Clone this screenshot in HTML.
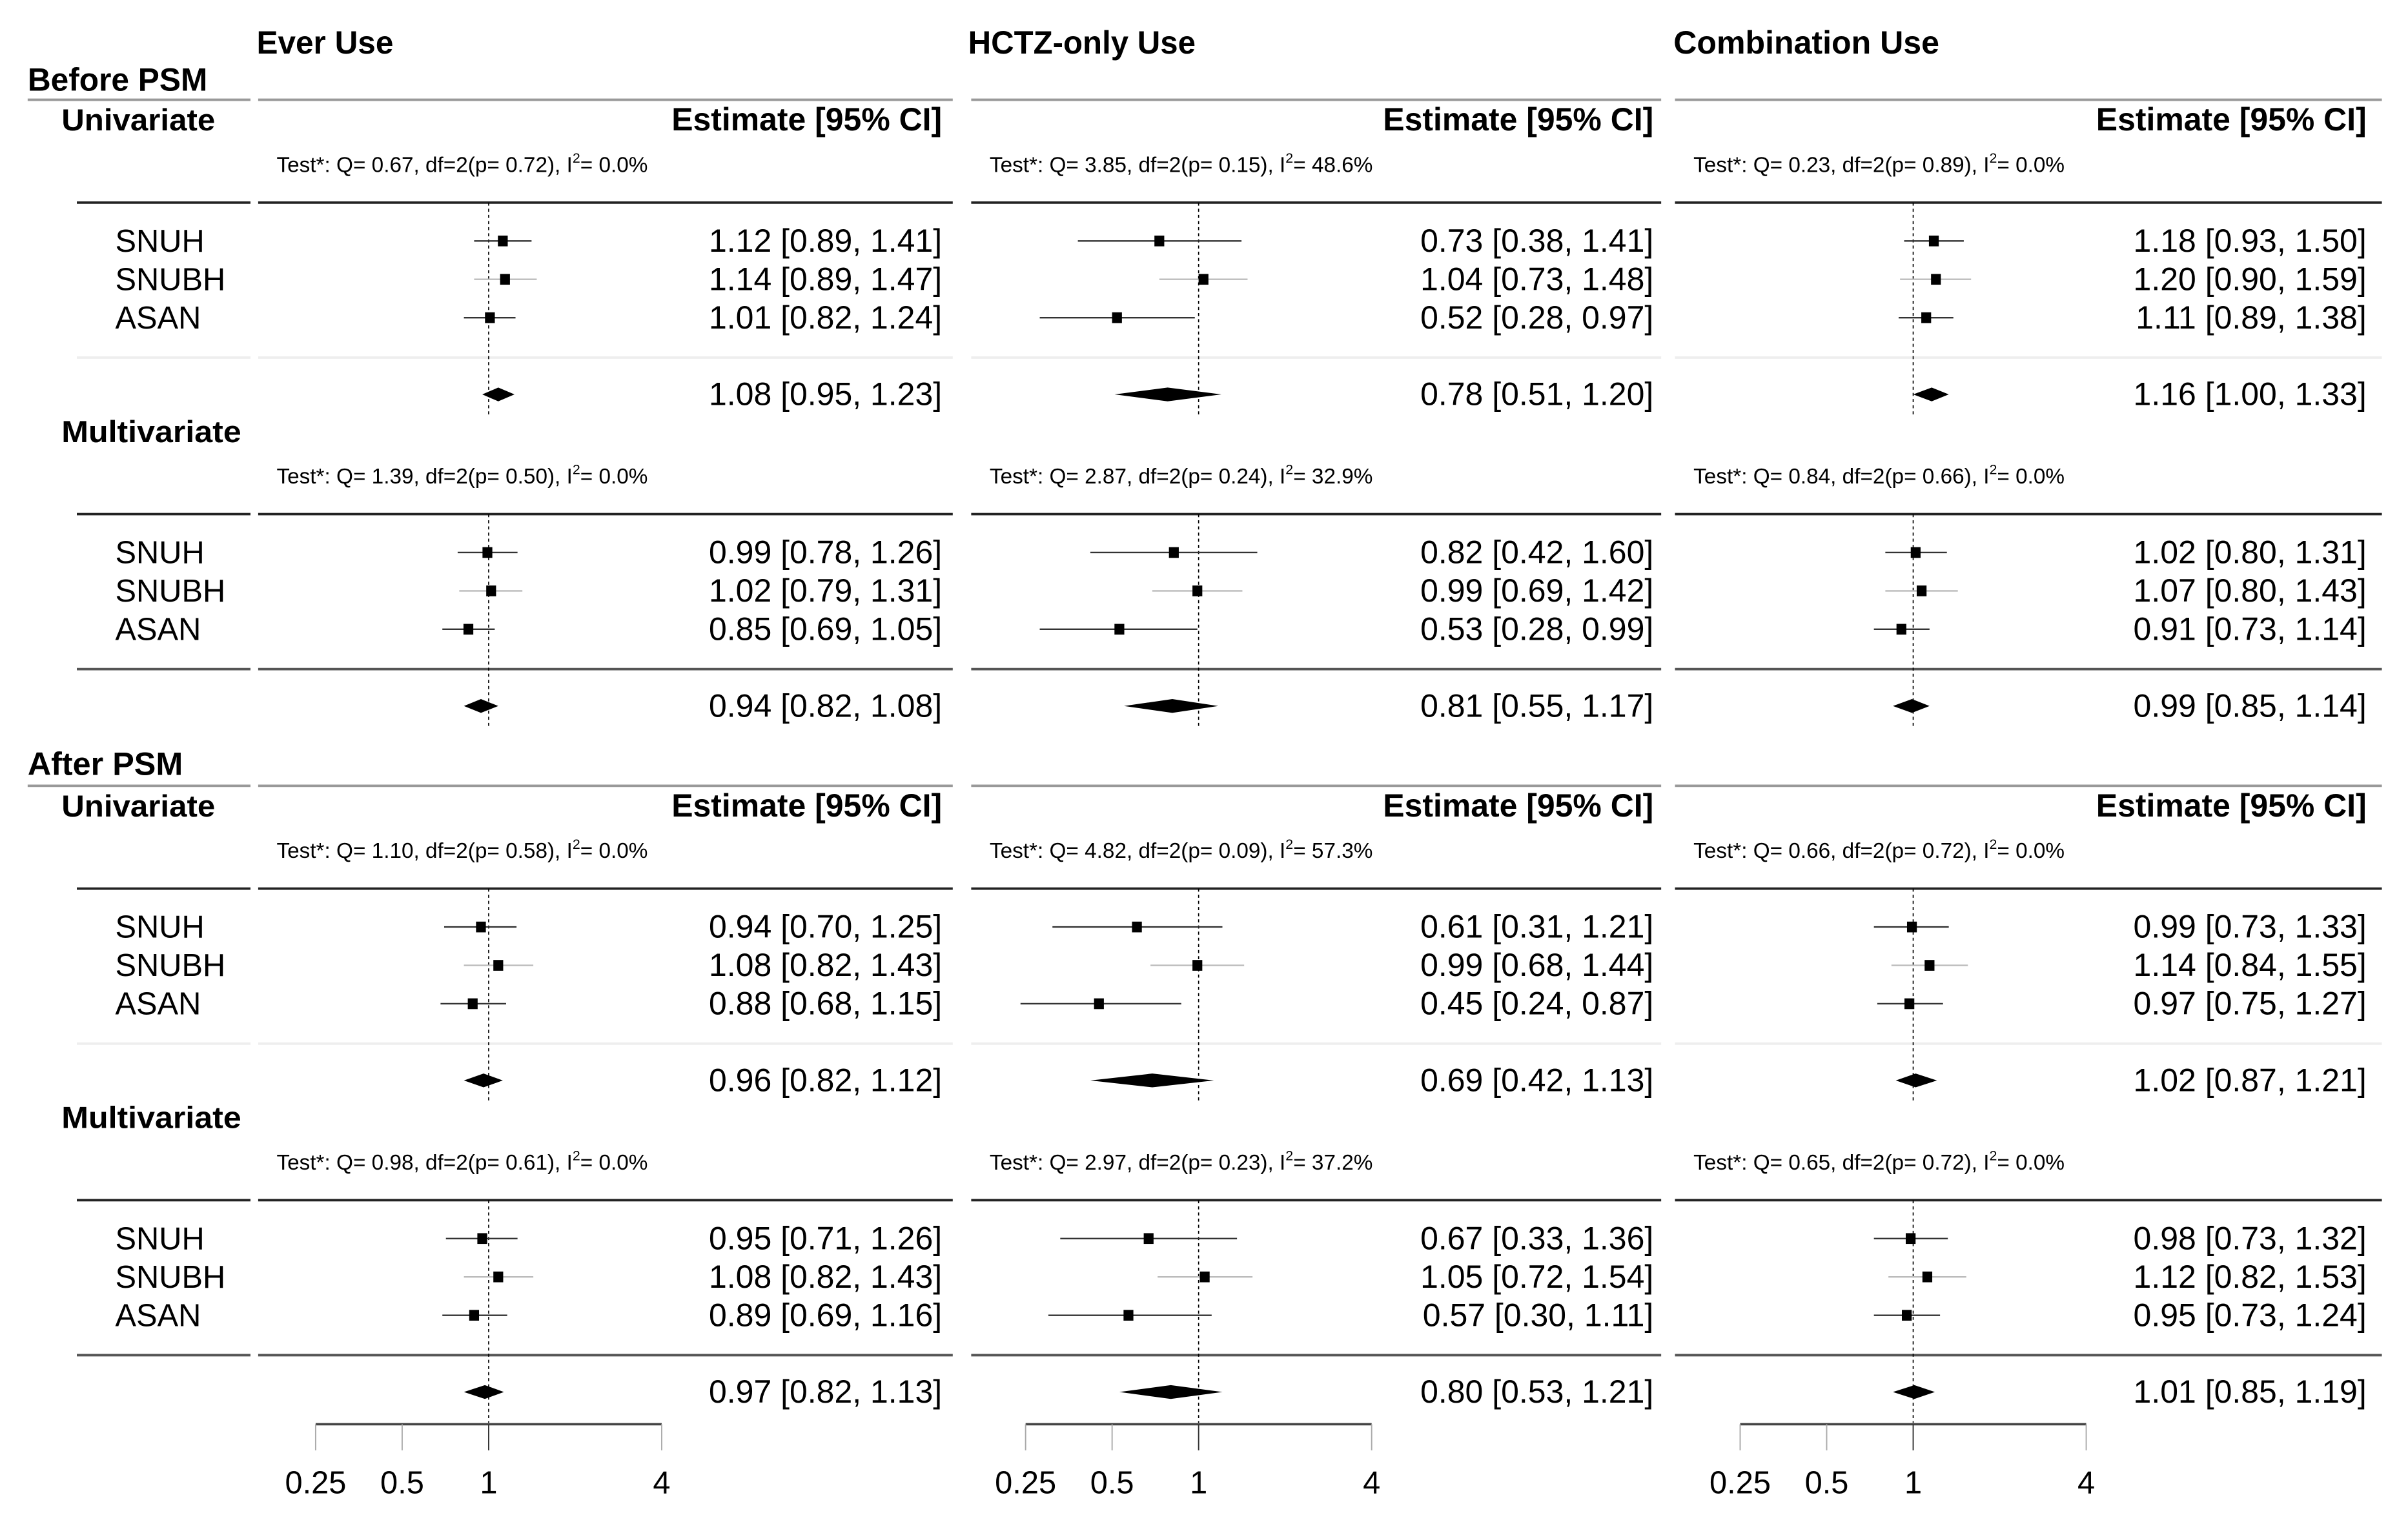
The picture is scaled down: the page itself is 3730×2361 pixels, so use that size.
<!DOCTYPE html>
<html><head><meta charset="utf-8"><style>
html,body{margin:0;padding:0;background:#fff;}
svg{display:block;}
text{font-family:"Liberation Sans",Arial,sans-serif;fill:#000;}
</style></head><body>
<svg id="chart" xmlns="http://www.w3.org/2000/svg" width="3730" height="2361" viewBox="0 0 1567 993" preserveAspectRatio="none">
<g id="static">
<text x="167" y="35" font-size="21" font-weight="bold" textLength="89" lengthAdjust="spacingAndGlyphs">Ever Use</text>
<text x="630" y="35" font-size="21" font-weight="bold" textLength="148" lengthAdjust="spacingAndGlyphs">HCTZ-only Use</text>
<text x="1089" y="35" font-size="21" font-weight="bold" textLength="173" lengthAdjust="spacingAndGlyphs">Combination Use</text>
<text x="18" y="59" font-size="21" font-weight="bold" textLength="117" lengthAdjust="spacingAndGlyphs">Before PSM</text>
<text x="18" y="505" font-size="21" font-weight="bold" textLength="101" lengthAdjust="spacingAndGlyphs">After PSM</text>
</g>
<g id="dyn"></g>
</svg>
<script>
const categories = ["SNUH","SNUBH","ASAN"];
const panelNames = ["ever-use","hctz-only","combination"];
const blockNames = ["before-univariate","before-multivariate","after-univariate","after-multivariate"];
// estimates[panel][block] = [SNUH, SNUBH, ASAN, pooled]
const estEver = [[1.12,1.14,1.01,1.08],[0.99,1.02,0.85,0.94],[0.94,1.08,0.88,0.96],[0.95,1.08,0.89,0.97]];
const lowEver = [[0.89,0.89,0.82,0.95],[0.78,0.79,0.69,0.82],[0.70,0.82,0.68,0.82],[0.71,0.82,0.69,0.82]];
const upEver  = [[1.41,1.47,1.24,1.23],[1.26,1.31,1.05,1.08],[1.25,1.43,1.15,1.12],[1.26,1.43,1.16,1.13]];
const estHctz = [[0.73,1.04,0.52,0.78],[0.82,0.99,0.53,0.81],[0.61,0.99,0.45,0.69],[0.67,1.05,0.57,0.80]];
const lowHctz = [[0.38,0.73,0.28,0.51],[0.42,0.69,0.28,0.55],[0.31,0.68,0.24,0.42],[0.33,0.72,0.30,0.53]];
const upHctz  = [[1.41,1.48,0.97,1.20],[1.60,1.42,0.99,1.17],[1.21,1.44,0.87,1.13],[1.36,1.54,1.11,1.21]];
const estComb = [[1.18,1.20,1.11,1.16],[1.02,1.07,0.91,0.99],[0.99,1.14,0.97,1.02],[0.98,1.12,0.95,1.01]];
const lowComb = [[0.93,0.90,0.89,1.00],[0.80,0.80,0.73,0.85],[0.73,0.84,0.75,0.87],[0.73,0.82,0.73,0.85]];
const upComb  = [[1.50,1.59,1.38,1.33],[1.31,1.43,1.14,1.14],[1.33,1.55,1.27,1.21],[1.32,1.53,1.24,1.19]];
const testQ  = [["0.67","1.39","1.10","0.98"],["3.85","2.87","4.82","2.97"],["0.23","0.84","0.66","0.65"]];
const testP  = [["0.72","0.50","0.58","0.61"],["0.15","0.24","0.09","0.23"],["0.89","0.66","0.72","0.72"]];
const testI2 = [["0.0","0.0","0.0","0.0"],["48.6","32.9","57.3","37.2"],["0.0","0.0","0.0","0.0"]];
const tickValues = [0.25,0.5,1,4];
const tickLabels = ["0.25","0.5","1","4"];

const EST=[estEver,estHctz,estComb], LOW=[lowEver,lowHctz,lowComb], UP=[upEver,upHctz,upComb];
const panelX0=[168,632,1090], panelX1=[620,1081,1550], oneX=[318,780,1245], estRight=[613,1076,1540];
const unit=56.3;
function xScale(p,v){return oneX[p]+Math.log2(v)*unit;}
const blockTop=[65,268,512,715];
const NS="http://www.w3.org/2000/svg";
const g=document.getElementById('dyn');
function mk(tag,attrs,parent){const e=document.createElementNS(NS,tag);for(const k in attrs)e.setAttribute(k,attrs[k]);(parent||g).appendChild(e);return e;}
function fmt(v){return v.toFixed(2);}

for(let b=0;b<4;b++){
  const T=blockTop[b];
  const isUni=(b%2===0);
  const yTest=T+42, yBlack=T+67, rowY=[T+92,T+117,T+142], ySep=T+168, ySum=T+192;
  let lbl=mk('text',{x:40,y:T+20,'font-size':20,'font-weight':'bold',textLength:isUni?100:117,lengthAdjust:'spacingAndGlyphs'});
  lbl.textContent=isUni?'Univariate':'Multivariate';
  
  
  if(isUni){
    let l=mk('line',{x1:18,x2:163,y1:T,y2:T,stroke:'#999','stroke-width':1.6});
    
    
  }
  let lb=mk('line',{x1:50,x2:163,y1:yBlack,y2:yBlack,stroke:'#222','stroke-width':1.6});
  
  
  let sepCol=(b===0||b===2)?'#eee':'#555';
  let ls=mk('line',{x1:50,x2:163,y1:ySep,y2:ySep,stroke:sepCol,'stroke-width':1.6});
  
  
  for(let r=0;r<3;r++){
    let t=mk('text',{x:75,y:rowY[r]+7,'font-size':20.5});
    t.textContent=categories[r];
    
    
  }
  for(let p=0;p<3;p++){
    if(isUni){
      let hl=mk('line',{x1:panelX0[p],x2:panelX1[p],y1:T,y2:T,stroke:'#999','stroke-width':1.6});
      
      
      let eh=mk('text',{x:estRight[p],y:T+20,'font-size':21,'font-weight':'bold','text-anchor':'end',textLength:176,lengthAdjust:'spacingAndGlyphs'});
      eh.textContent='Estimate [95% CI]';
      
      
    }
    let tt=mk('text',{x:panelX0[p]+12,y:yTest+5,'font-size':14});
    
    
    tt.appendChild(document.createTextNode('Test*: Q= '+testQ[p][b]+', df=2(p= '+testP[p][b]+'), I'));
    let sup=mk('tspan',{dy:-6,'font-size':9},tt); sup.textContent='2';
    let rest=mk('tspan',{dy:6},tt); rest.textContent='= '+testI2[p][b]+'%';
    let bl=mk('line',{x1:panelX0[p],x2:panelX1[p],y1:yBlack,y2:yBlack,stroke:'#222','stroke-width':1.6});
    
    
    let sl=mk('line',{x1:panelX0[p],x2:panelX1[p],y1:ySep,y2:ySep,stroke:sepCol,'stroke-width':1.6});
    
    
    let ref=mk('line',{x1:oneX[p],x2:oneX[p],y1:yBlack,y2:ySum+(b===3?20:13),stroke:'#000','stroke-width':0.7,'stroke-dasharray':'2,2'});
    
    
    const e=EST[p][b], lo=LOW[p][b], up=UP[p][b];
    for(let r=0;r<3;r++){
      const y=rowY[r];
      let ci=mk('line',{x1:xScale(p,lo[r]),x2:xScale(p,up[r]),y1:y,y2:y,stroke:r===1?'#bbb':'#333','stroke-width':1});
      
      
      let sq=mk('rect',{x:xScale(p,e[r])-3.2,y:y-3.5,width:6.4,height:7,fill:'#000'});
      
      
      let vt=mk('text',{x:estRight[p],y:y+7,'font-size':21,'text-anchor':'end'});
      vt.textContent=fmt(e[r])+' ['+fmt(lo[r])+', '+fmt(up[r])+']';
      
      
    }
    const xl=xScale(p,lo[3]), xr=xScale(p,up[3]), xc=xScale(p,e[3]);
    let d=mk('polygon',{points:`${xl},${ySum} ${xc},${ySum-4.5} ${xr},${ySum} ${xc},${ySum+4.5}`,fill:'#000'});
    
    
    let st=mk('text',{x:estRight[p],y:ySum+7,'font-size':21,'text-anchor':'end'});
    st.textContent=fmt(e[3])+' ['+fmt(lo[3])+', '+fmt(up[3])+']';
    
    
  }
}
for(let p=0;p<3;p++){
  const yA=928;
  let ax=mk('line',{x1:xScale(p,tickValues[0]),x2:xScale(p,tickValues[tickValues.length-1]),y1:yA,y2:yA,stroke:'#444','stroke-width':1.5});
  
  
  for(let i=0;i<tickValues.length;i++){
    const x=xScale(p,tickValues[i]);
    let tk=mk('line',{x1:x,x2:x,y1:yA,y2:yA+17,stroke:tickValues[i]===1?'#333':'#aaa','stroke-width':0.8});
    
    
    let tl=mk('text',{x:x,y:973,'font-size':20.5,'text-anchor':'middle'});
    tl.textContent=tickLabels[i];
    
    
  }
}
</script>
</body></html>
